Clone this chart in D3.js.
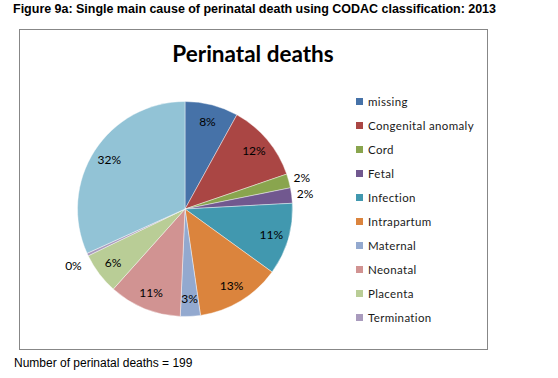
<!DOCTYPE html>
<html><head><meta charset="utf-8">
<script src="https://cdn.jsdelivr.net/npm/d3@7/dist/d3.min.js"></script>
<style>
html,body{margin:0;padding:0;background:#fff;}
svg{display:block;}
</style></head>
<body>
<script>
const categories = ["missing","Congenital anomaly","Cord","Fetal","Infection","Intrapartum","Maternal","Neonatal","Placenta","Termination","Unexplained"];
const values = [8.0, 11.7, 2.1, 2.3, 10.8, 12.7, 3.0, 10.9, 6.2, 0.4, 31.7];
const colors = ["#4672A8","#AA4644","#89A54E","#71588F","#4198AF","#DB843D","#93A9CF","#D19392","#B9CD96","#A99BBD","#92C3D6"];
const legendCount = 10;
const figureTitle = "Figure 9a: Single main cause of perinatal death using CODAC classification: 2013";
const chartTitle = "Perinatal deaths";
const footnote = "Number of perinatal deaths = 199";

const W = 558, H = 378;
const svg = d3.select("body").append("svg").attr("width", W).attr("height", H);

// figure title
const ft = svg.append("text").attr("x", 13).attr("y", 13)
  .attr("font-family", "Liberation Sans, Arial, sans-serif").attr("font-weight", "bold")
  .attr("font-size", 12.5).attr("fill", "#000").text(figureTitle);
{
  const len = ft.node().getComputedTextLength();
  const spaces = (figureTitle.match(/ /g) || []).length;
  const target = 483;
  ft.attr("word-spacing", (target - len) / spaces);
}

// chart frame
svg.append("rect").attr("x", 19.5).attr("y", 29.5).attr("width", 468).attr("height", 320)
  .attr("fill", "#fff").attr("stroke", "#878787").attr("stroke-width", 1);

svg.append("text").attr("x", 253).attr("y", 62).attr("text-anchor", "middle")
  .attr("font-family", "Lato, 'Open Sans', sans-serif").attr("font-weight", "bold")
  .attr("font-size", 22.5).attr("fill", "#000").text(chartTitle);

// pie
const cx = 185, cy = 209, R = 107.5;
const data = categories.map((c, i) => ({cat: c, v: values[i], col: colors[i]}));
const total = d3.sum(values);
const pie = d3.pie().value(d => d.v).sort(null);
const arcs = pie(data);
const arc = d3.arc().innerRadius(0).outerRadius(R);
const g = svg.append("g").attr("transform", `translate(${cx},${cy})`);
g.selectAll("path").data(arcs).join("path")
  .attr("d", arc).attr("fill", d => d.data.col)
  .attr("stroke", "#fff").attr("stroke-width", 0.6).attr("stroke-opacity", 0.7);

const fmt = v => Math.round(v / total * 100) + "%";
arcs.forEach(a => {
  const pct = a.data.v / total * 100;
  const mid = (a.startAngle + a.endAngle) / 2;
  const inside = pct >= 3;
  const r = inside ? 90 : 121;
  let x = Math.sin(mid) * r, y = -Math.cos(mid) * r;
  if (!inside && Math.sin(mid) < 0) { x -= 2; y += 6; }
  g.append("text").attr("x", x).attr("y", y).attr("dy", "0.35em")
    .attr("text-anchor", "middle")
    .attr("font-family", "Lato, 'Open Sans', sans-serif").attr("font-size", 12)
    .attr("fill", "#000").text(fmt(a.data.v));
});

// legend
const lg = svg.append("g").attr("transform", "translate(356,102)");
data.slice(0, legendCount).forEach((d, i) => {
  const row = lg.append("g").attr("transform", `translate(0,${i * 24})`);
  row.append("rect").attr("x", 0).attr("y", -4).attr("width", 7).attr("height", 7).attr("fill", d.col);
  row.append("text").attr("x", 12).attr("y", 0).attr("dy", "0.35em")
    .attr("font-family", "Lato, 'Open Sans', sans-serif").attr("font-size", 11.5)
    .attr("letter-spacing", 0.35).attr("fill", "#1a1a1a").text(d.cat);
});

svg.append("text").attr("x", 14).attr("y", 367)
  .attr("font-family", "Liberation Sans, Arial, sans-serif").attr("font-size", 12)
  .attr("fill", "#000").text(footnote);
</script>
</body></html>
